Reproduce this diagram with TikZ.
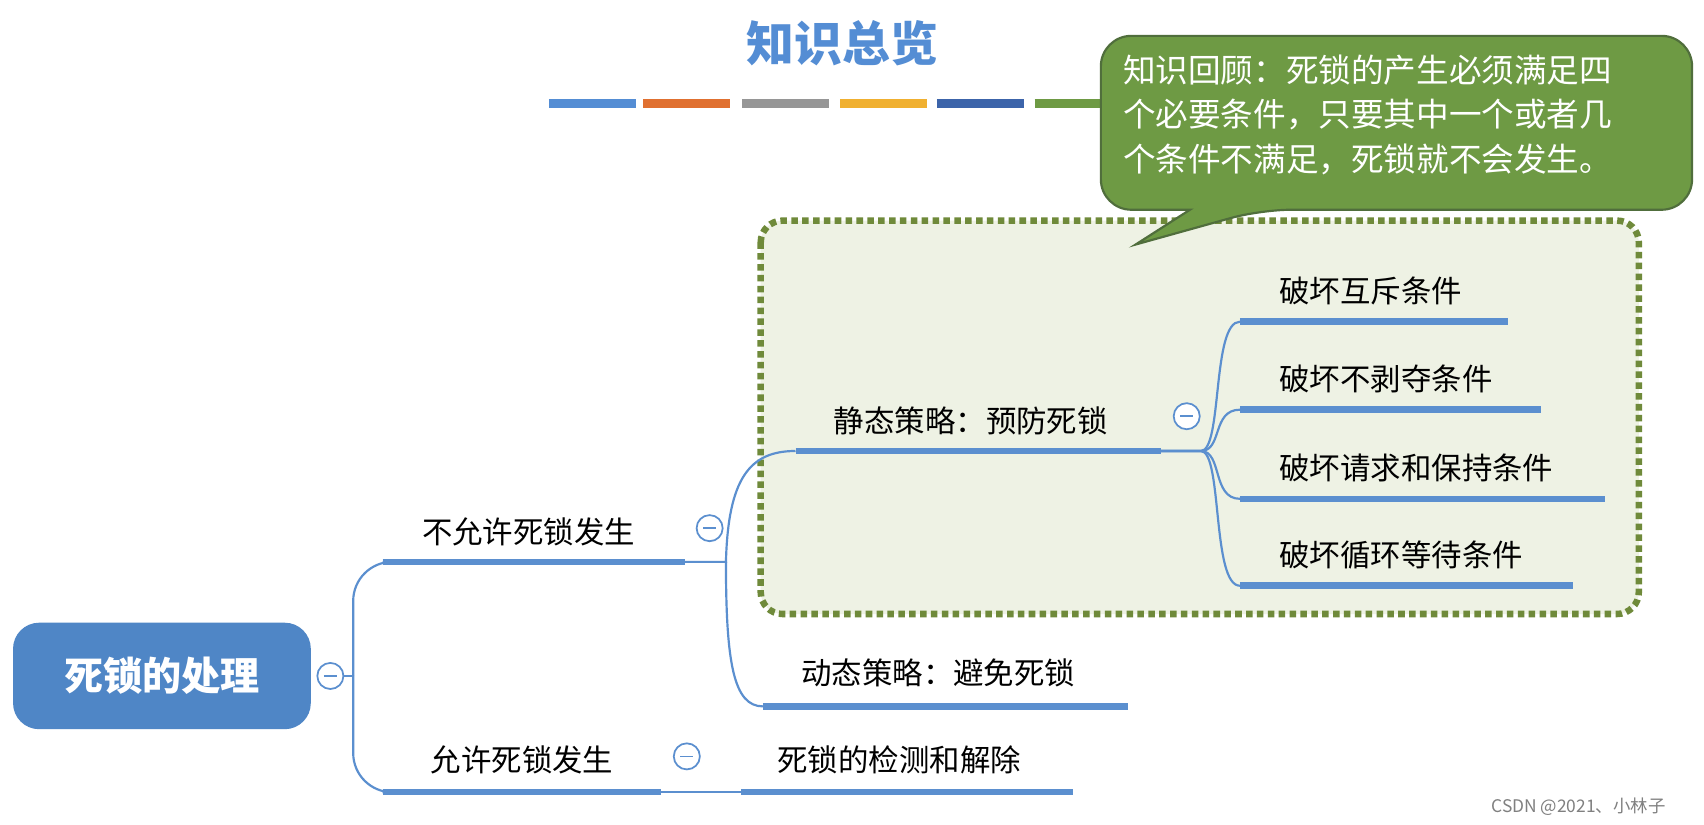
\documentclass[tikz,border=0pt]{standalone}
\usepackage{fontspec}
\setmainfont{Noto Sans CJK SC}
\definecolor{lb}{RGB}{84,141,212}
\definecolor{ln}{RGB}{91,143,207}
\definecolor{rootc}{RGB}{79,134,198}
\definecolor{gr}{RGB}{110,154,68}
\definecolor{grd}{RGB}{80,110,60}
\definecolor{boxf}{RGB}{238,242,228}
\definecolor{boxd}{RGB}{111,138,58}
\definecolor{cora}{RGB}{224,112,48}
\definecolor{cyel}{RGB}{240,176,48}
\definecolor{cdb}{RGB}{60,100,170}
\definecolor{cgy}{RGB}{150,150,150}
\begin{document}
\begin{tikzpicture}[x=0.5pt,y=-0.5pt,
  ul/.style={ln,line width=3pt},
  br/.style={ln,line width=1pt,rounded corners=18pt},
  lab/.style={font=\fontsize{14}{16}\selectfont,anchor=base west,inner sep=0pt},
  mc/.style={circle,draw=ln,line width=0.8pt,fill=white,minimum size=12pt,inner sep=0pt,
    path picture={\draw[ln,line width=0.8pt] ([xshift=-3pt]path picture bounding box.center)--([xshift=3pt]path picture bounding box.center);}}]
\fill[white] (0,0) rectangle (1568,759);
% title
\node[font=\fontsize{22}{24}\bfseries\selectfont,text=lb] (title) at (775,40) {知识总览};
\foreach \a/\b/\c in {505/585/lb,592/672/cora,683/763/cgy,773/853/cyel,862/942/cdb,952/1030/gr}
  \draw[line width=4pt,\c] (\a,95)--(\b,95);
% dashed box
\draw[boxd,fill=boxf,line width=3pt,dash pattern=on 3pt off 2pt,rounded corners=10pt] (700,203) rectangle (1508,565);
% callout
\draw[grd,fill=gr,line width=1pt,rounded corners=14pt] (1013,33) -- (1557,33) -- (1557,193) -- (1160,193) [sharp corners]-- (1045,225) -- (1095,193) [rounded corners=14pt]-- (1013,193) -- cycle;
\node[text=white,align=left,font=\fontsize{15}{20.5}\selectfont,anchor=north west,inner sep=0pt] (cl) at (1033,50) {知识回顾：死锁的产生必须满足四\\个必要条件，只要其中一个或者几\\个条件不满足，死锁就不会发生。};
% root
\node[fill=rootc,rounded corners=12pt,minimum width=137pt,minimum height=49pt,text=white,font=\fontsize{18}{20}\bfseries\selectfont] (root) at (149,622) {死锁的处理};
\node[mc] (m0) at (304,622) {};
\node[mc] (m1) at (653,486) {};
\node[mc] (m2) at (1092,383) {};
\node[mc] (m3) at (632,696) {};
% level 1
\coordinate (a1) at (352,517); \coordinate (a2) at (630,517);
\coordinate (b1) at (352,729); \coordinate (b2) at (608,729);
\draw[ul] (a1)--(a2); \draw[ul] (b1)--(b2);
\node[lab] (t1) at (388,500) {不允许死锁发生};
\node[lab] (t2) at (396,710) {允许死锁发生};
\draw[ln,line width=1pt] (m0.east)--(325,622);
\draw[br] (325,622)--(325,517)--(a1);
\draw[br] (325,622)--(325,729)--(b1);
% level 2
\coordinate (s1) at (732,415); \coordinate (s2) at (1068,415);
\coordinate (d1) at (702,650); \coordinate (d2) at (1038,650);
\coordinate (e1) at (682,729); \coordinate (e2) at (987,729);
\draw[ul] (s1)--(s2); \draw[ul] (d1)--(d2); \draw[ul] (e1)--(e2);
\draw[ln,line width=1pt] (a2)--(668,517) .. controls (670,440) and (690,415) .. (s1);
\draw[ln,line width=1pt] (668,517) .. controls (668,610) and (675,650) .. (d1);
\draw[ln,line width=1pt] (b2)--(e1);
\node[lab] (t3) at (767,398) {静态策略：预防死锁};
\node[lab] (t4) at (737,630) {动态策略：避免死锁};
\node[lab] (t5) at (715,710) {死锁的检测和解除};
% level 3
\foreach \y/\xe/\t in {296/1388/破坏互斥条件,377/1418/破坏不剥夺条件,459/1477/破坏请求和保持条件,539/1447/破坏循环等待条件}{
  \draw[ul] (1141,\y)--(\xe,\y);
  \node[lab] at (1177,\y-18) {\t};
  \draw[ln,line width=1pt] (s2)--(1105,415) .. controls (1125,415) and (1115,\y) .. (1141,\y);
}
\node[text=gray,font=\fontsize{8}{9}\selectfont,anchor=west,inner sep=0pt] (csdn) at (1372,742) {CSDN @2021、小林子};
\pgfresetboundingbox
\useasboundingbox (0,0) rectangle (1568,759);
\end{tikzpicture}
\end{document}
